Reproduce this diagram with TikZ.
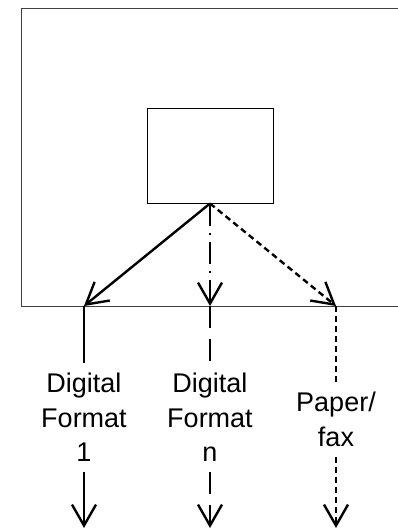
\documentclass[tikz,border=0pt]{standalone}
\usepackage{fontspec}
\setmainfont{Liberation Sans}
\usetikzlibrary{arrows.meta}
\tikzset{>={Straight Barb[length=21pt,width=24pt]}}
\tikzstyle{route}=[line width=2.4pt]
\tikzstyle{dashdot route}=[route,dash pattern=on 22pt off 7pt on 2pt off 7pt]
\tikzstyle{long route}=[route,dash pattern=on 22pt off 11pt]
\tikzstyle{short route}=[route,dash pattern=on 6pt off 4pt]
\tikzstyle{format}=[align=center,anchor=north,inner sep=10pt,
                    font=\fontsize{27}{34.5}\selectfont]

\begin{document}
\begin{tikzpicture}[x=1pt,y=-1pt]
  \useasboundingbox (0,0) rectangle (398,531);
  % frame, open to the right
  \draw[black!75,line width=1pt] (398,8) -- (21,8) -- (21,306) -- (398,306);
  \node[draw,line width=1pt,minimum width=126pt,minimum height=95pt,inner sep=0pt]
       (store) at (210,155.5) {};
  \coordinate (d1) at (84,306);
  \coordinate (dn) at (210,306);
  \coordinate (pf) at (336,306);
  \coordinate (d1 end) at (84,528);
  \coordinate (dn end) at (210,528);
  \coordinate (pf end) at (336,528);
  \node[format] (fmt1) at (84,363) {Digital\\Format\\1};
  \node[format] (fmtn) at (210,363) {Digital\\Format\\n};
  \node[format] (fax)  at (336,382) {Paper/\\fax};
  % out of the box
  \draw[route,->] (store.south) -- (d1);
  \draw[dashdot route,->] (store.south) -- (dn);
  \draw[short route,->] (store.south) -- (pf);
  % down past the labels
  \draw[route] (d1) -- (fmt1.north);
  \draw[route,->] (fmt1.south) -- (d1 end);
  \draw[long route] (dn) -- (fmtn.north);
  \draw[long route,->] (fmtn.south) -- (dn end);
  \draw[short route] (pf) -- (fax.north);
  \draw[short route,->] (fax.south) -- (pf end);
\end{tikzpicture}
\end{document}
